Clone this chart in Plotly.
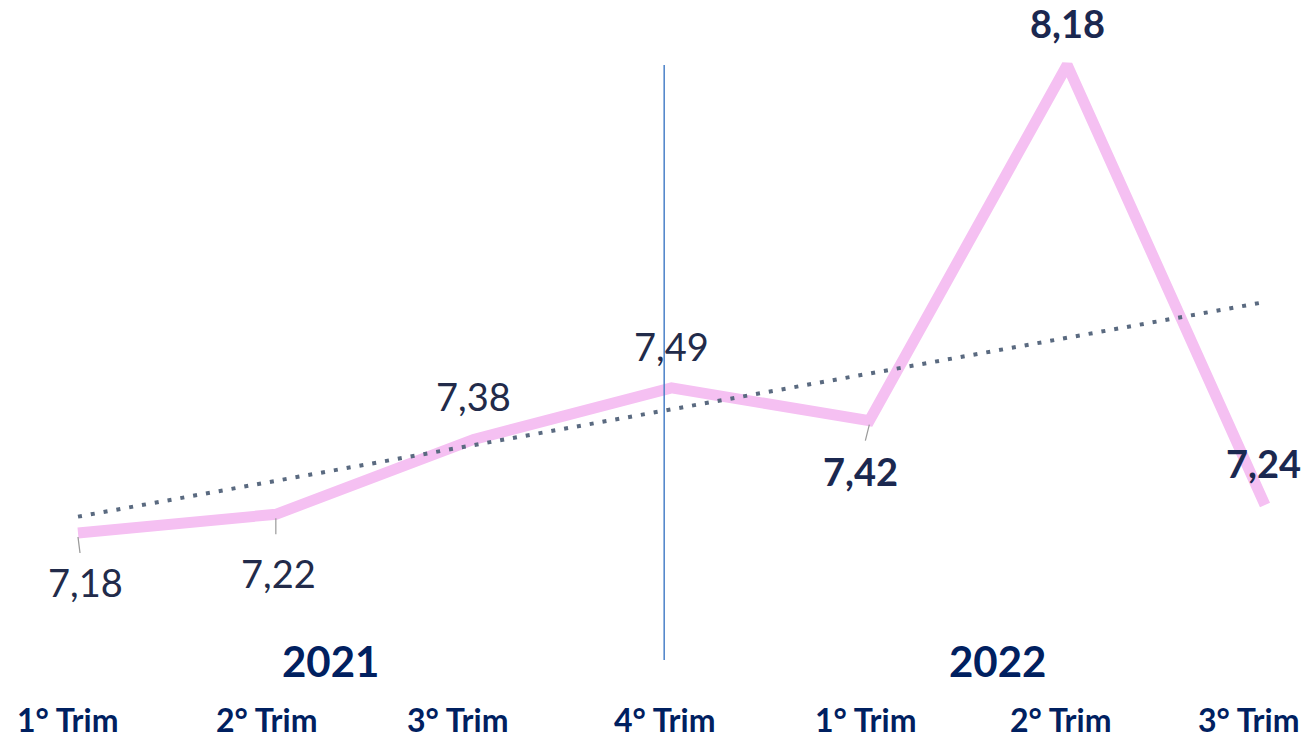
import numpy as np
import plotly.graph_objects as go

# Quarterly values
quarters = ["1° Trim", "2° Trim", "3° Trim", "4° Trim", "1° Trim", "2° Trim", "3° Trim"]
values = [7.18, 7.22, 7.38, 7.49, 7.42, 8.18, 7.24]
years = ["2021", "2022"]

x = list(range(len(values)))

# Linear trend over the series
slope, intercept = np.polyfit(x, values, 1)
trend = [intercept + slope * xi for xi in x]

# Label placement: (x shift px, y shift px, bold)
label_style = [
    (7, -49, False),
    (3, -59, False),
    (0, 43, False),
    (0, 42, False),
    (-9, -50, True),
    (0, 42, True),
    (-2, 42, True),
]

NAVY = "#002060"
LABEL = "#222b4a"
FONT = "Lato, 'Open Sans', sans-serif"

fig = go.Figure()

fig.add_trace(go.Scatter(
    x=x, y=values, mode="lines",
    line=dict(color="#f5c0f2", width=11),
    hoverinfo="skip", showlegend=False,
))

fig.add_trace(go.Scatter(
    x=[x[0], x[-1]], y=[trend[0], trend[-1]], mode="lines",
    line=dict(color="#5a6a80", width=4, dash="4px,9px"),
    hoverinfo="skip", showlegend=False,
))

annotations = []
for xi, v, (dx, dy, bold) in zip(x, values, label_style):
    txt = f"{v:.2f}".replace(".", ",")
    if bold:
        txt = f"<b>{txt}</b>"
    annotations.append(dict(
        x=xi, y=v, xref="x", yref="y", text=txt, showarrow=False,
        xanchor="center", yanchor="middle",
        xshift=dx, yshift=dy,
        font=dict(family=FONT, size=38, color=LABEL if not bold else "#1b2850"),
    ))

# Category labels along the bottom
tick_shift = [-10, -9, -16, -7, -3, -6, -16]
for xi, q, s in zip(x, quarters, tick_shift):
    annotations.append(dict(
        x=xi, y=1 - 719 / 742, xref="x", yref="paper", text=f"<b>{q}</b>",
        showarrow=False, xshift=s, xanchor="center", yanchor="middle",
        font=dict(family=FONT, size=32, color=NAVY),
    ))

# Year headings
for xc, yr in zip([1.274, 4.646], years):
    annotations.append(dict(
        x=xc, y=1 - 661 / 742, xref="x", yref="paper", text=f"<b>{yr}</b>",
        showarrow=False, xanchor="center", yanchor="middle",
        font=dict(family=FONT, size=42, color=NAVY),
    ))

shapes = [
    # year divider
    dict(type="line", xref="x", yref="paper", x0=2.963, x1=2.963,
         y0=1 - 660 / 742, y1=1 - 65 / 742,
         line=dict(color="#4a80c8", width=1.5)),
]
# small leader ticks under the lower labels
for idx in (0, 1, 4):
    shapes.append(dict(
        type="line", xref="x", yref="y", xsizemode="pixel", ysizemode="pixel",
        xanchor=x[idx], yanchor=values[idx],
        x0=0, x1=2 if idx == 0 else (-4 if idx == 4 else 0),
        y0=-4, y1=-20,
        line=dict(color="#9a9a9a", width=1.2),
    ))

px_per_x = (1265 - 78) / 6
px_per_y = (533 - 65) / (8.18 - 7.18)

fig.update_layout(
    width=1309, height=742,
    margin=dict(l=0, r=0, t=0, b=0),
    paper_bgcolor="white", plot_bgcolor="white",
    xaxis=dict(range=[-78 / px_per_x, 6 + (1309 - 1265) / px_per_x],
               visible=False, fixedrange=True),
    yaxis=dict(range=[7.18 - (742 - 533) / px_per_y, 8.18 + 65 / px_per_y],
               visible=False, fixedrange=True),
    annotations=annotations,
    shapes=shapes,
    showlegend=False,
)

fig.write_html("out.html")
